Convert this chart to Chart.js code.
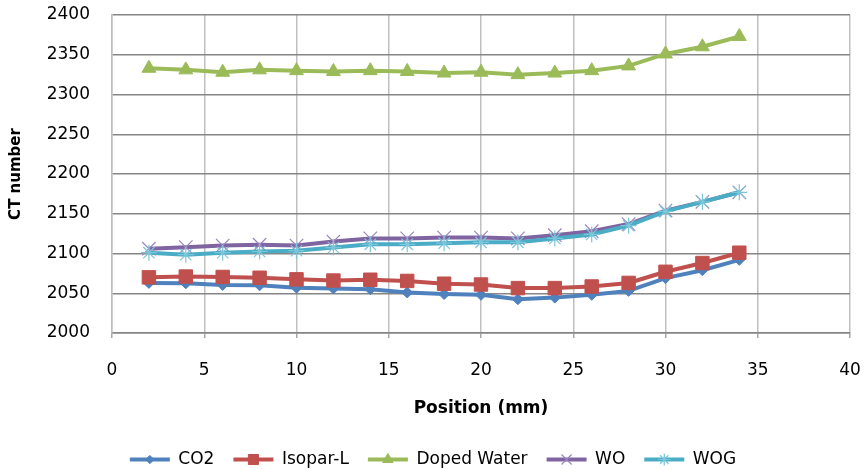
<!DOCTYPE html>
<html>
<head>
<meta charset="utf-8">
<script src="https://cdn.jsdelivr.net/npm/chart.js@4.4.1/dist/chart.umd.min.js"></script>
<style>
  html, body { margin: 0; padding: 0; background: #fff; }
  #wrap { width: 864px; height: 470px; }
</style>
</head>
<body>
<div id="wrap"><canvas id="c" width="864" height="470"></canvas></div>
<script>
const positions = [2, 4, 6, 8, 10, 12, 14, 16, 18, 20, 22, 24, 26, 28, 30, 32, 34];
const co2      = [2063, 2062.5, 2060.5, 2060, 2057, 2056, 2055, 2051, 2049, 2048, 2042.5, 2044.5, 2048, 2053, 2069, 2079, 2092];
const isoparL  = [2070, 2071, 2070.5, 2069.5, 2067.5, 2066, 2067, 2065.5, 2062, 2061, 2056.5, 2056.5, 2058.5, 2063, 2077, 2088, 2101];
const dopedWater = [2333, 2331, 2328, 2331, 2330, 2329, 2330, 2329, 2327, 2328, 2325, 2327, 2330, 2336, 2351, 2360, 2373];
const wo       = [2106, 2108, 2110, 2111, 2110, 2115, 2119, 2119, 2120, 2120, 2119, 2123, 2128, 2137, 2154, 2165, 2177];
const wog      = [2101, 2098.5, 2101, 2102.5, 2103.5, 2107.5, 2111.5, 2111.5, 2113, 2114, 2114, 2119, 2124, 2135, 2153, 2165, 2177];
const seriesNames = ['CO2', 'Isopar-L', 'Doped Water', 'WO', 'WOG'];
const xTicks = { min: 0, max: 40, step: 5 };
const yTicks = { min: 2000, max: 2400, step: 50 };

const FONT = 'DejaVu Sans';
const styles = [
  { color: '#4F81BD', marker: '#4F81BD', pointStyle: 'rectRot', radius: 5.5, bw: 1 },
  { color: '#C0504D', marker: '#C0504D', pointStyle: 'rect', radius: 9.5, bw: 1 },
  { color: '#9BBB59', marker: '#9BBB59', pointStyle: 'triangle', radius: 8, bw: 1 },
  { color: '#8064A2', marker: '#9A86BC', pointStyle: 'crossRot', radius: 9.5, bw: 1.2 },
  { color: '#4BACC6', marker: '#7CC6DA', pointStyle: 'star', radius: 8, bw: 1.2 }
];
const values = [co2, isoparL, dopedWater, wo, wog];

const datasets = values.map((vals, i) => ({
  label: seriesNames[i],
  data: positions.map((x, j) => ({ x: x, y: vals[j] })),
  borderColor: styles[i].color,
  backgroundColor: styles[i].color,
  borderWidth: 4,
  pointStyle: styles[i].pointStyle,
  pointRadius: styles[i].radius,
  pointBackgroundColor: styles[i].marker,
  pointBorderColor: styles[i].marker,
  pointBorderWidth: styles[i].bw,
  tension: 0,
  order: values.length - i
}));

const legendMarkers = {
  id: 'legendMarkers',
  afterDraw(chart) {
    const lg = chart.legend;
    if (!lg || !lg.legendHitBoxes) return;
    const ctx = chart.ctx;
    const bw = lg.options.labels.boxWidth;
    lg.legendItems.forEach((item, k) => {
      const hb = lg.legendHitBoxes[k];
      const s = styles[item.datasetIndex];
      const cx = hb.left + bw / 2;
      const cy = hb.top + hb.height / 2;
      ctx.save();
      ctx.fillStyle = s.marker;
      ctx.strokeStyle = s.marker;
      ctx.lineWidth = s.bw;
      Chart.helpers.drawPoint(ctx, { pointStyle: s.pointStyle, radius: s.radius * 0.75, rotation: 0, borderWidth: s.bw }, cx, cy);
      ctx.restore();
    });
  }
};

new Chart(document.getElementById('c'), {
  type: 'line',
  data: { datasets },
  plugins: [legendMarkers],
  options: {
    responsive: false,
    animation: false,
    layout: { padding: { left: 16, right: 14, top: 15, bottom: -8 } },
    plugins: {
      tooltip: { enabled: false },
      legend: {
        position: 'bottom',
        labels: {
          boxWidth: 40,
          boxHeight: 4,
          padding: 19,
          color: '#000',
          font: { family: FONT, size: 17 },
          sort: (a, b) => a.datasetIndex - b.datasetIndex,
          generateLabels(chart) {
            return chart.data.datasets.map((d, i) => ({
              text: d.label,
              fillStyle: styles[i].color,
              strokeStyle: styles[i].color,
              lineWidth: 0,
              hidden: false,
              datasetIndex: i
            }));
          }
        }
      }
    },
    scales: {
      x: {
        type: 'linear',
        min: xTicks.min,
        max: xTicks.max,
        ticks: { stepSize: xTicks.step, color: '#000', font: { family: FONT, size: 17 }, padding: 22, maxRotation: 0, callback: v => String(v) },
        grid: { color: '#C0C0C0', lineWidth: 1.5, tickLength: 5, tickColor: '#A6A6A6' },
        border: { color: '#868686', width: 1.5 },
        title: { display: true, text: 'Position (mm)', color: '#000', font: { family: FONT, size: 17, weight: 'bold' }, padding: { top: 4, bottom: 13 } },
        afterFit(scale) { scale.height = 99; scale.paddingRight = 12; }
      },
      y: {
        type: 'linear',
        min: yTicks.min,
        max: yTicks.max,
        ticks: { stepSize: yTicks.step, color: '#000', font: { family: FONT, size: 17 }, padding: 22, callback: v => String(v) },
        grid: { color: '#868686', lineWidth: 1.5, drawTicks: false },
        border: { color: '#BFBFBF', width: 1.5 },
        title: { display: true, text: 'CT number', color: '#000', font: { family: FONT, size: 15, weight: 'bold' }, padding: { top: -9, bottom: 0 } },
        afterFit(scale) { scale.width = 96; scale.paddingTop = 10; scale.paddingBottom = 10; }
      }
    }
  }
});
</script>
</body>
</html>
